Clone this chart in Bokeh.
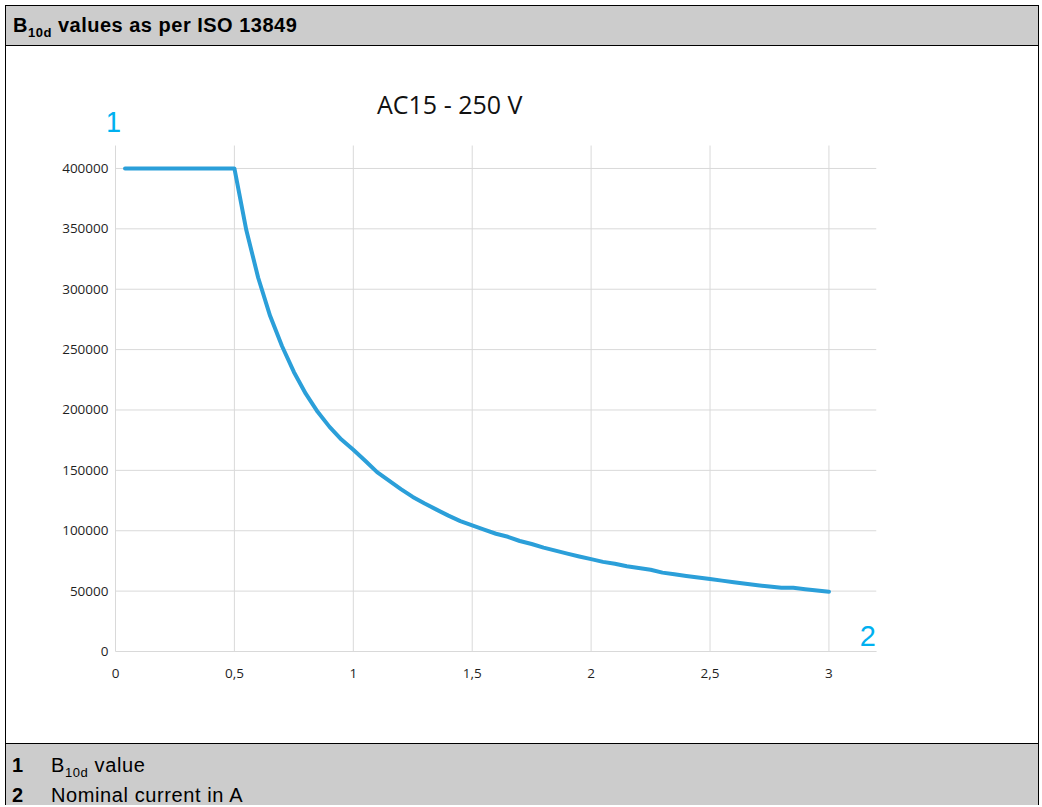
from bokeh.plotting import figure
from bokeh.models import Range1d, FixedTicker, Label, Div
from bokeh.layouts import column
from bokeh.embed import file_html
from bokeh.resources import INLINE

# ---- data ----
current = [0.04, 0.5, 0.55, 0.6, 0.65, 0.7, 0.75, 0.8, 0.85, 0.9, 0.95,
           1.0, 1.05, 1.1, 1.15, 1.2, 1.25, 1.3, 1.35, 1.4, 1.45,
           1.5, 1.55, 1.6, 1.65, 1.7, 1.75, 1.8, 1.85, 1.9, 1.95,
           2.0, 2.05, 2.1, 2.15, 2.2, 2.25, 2.3, 2.35, 2.4, 2.45,
           2.5, 2.55, 2.6, 2.65, 2.7, 2.75, 2.8, 2.85, 2.9, 2.95, 3.0]
b10d = [400000, 400000, 349000, 309500, 278000, 253000, 231500, 213500, 198500, 186000, 175500,
        167000, 158000, 148500, 141500, 134500, 128000, 122500, 117500, 112500, 108000,
        104500, 101000, 97500, 95000, 91500, 89000, 86000, 83500, 81000, 78700,
        76500, 74200, 72600, 70600, 69200, 67700, 65300, 63900, 62600, 61300,
        60000, 58700, 57400, 56100, 54900, 53800, 52700, 52700, 51600, 50500, 49500]

x_ticks = [0, 0.5, 1, 1.5, 2, 2.5, 3]
x_tick_labels = ["0", "0,5", "1", "1,5", "2", "2,5", "3"]
y_ticks = [0, 50000, 100000, 150000, 200000, 250000, 300000, 350000, 400000]
y_tick_labels = ["0", "50000", "100000", "150000", "200000", "250000", "300000", "350000", "400000"]

plot_x_max = 3.2        # right edge of the plot area
plot_y_max = 419000     # top edge of the plot area

chart_title = "AC15 - 250 V"
header_text = "B<sub style='font-size:13px;line-height:0'>10d</sub> values as per ISO 13849"
legend_rows = [("1", "B<sub style='font-size:13px;line-height:0'>10d</sub> value"),
               ("2", "Nominal current in A")]
axis_keys = ["1", "2"]

W = 1032
FONT_ARIAL = "'Liberation Sans', Arial, sans-serif"

# ---- chart ----
p = figure(width=W, height=697,
           x_range=Range1d(-7 / 238, plot_x_max), y_range=Range1d(0, 468700),
           output_backend="svg", toolbar_location=None,
           min_border_left=102, min_border_right=W - 870,
           min_border_top=39, min_border_bottom=92)
p.outline_line_color = None
p.background_fill_color = "white"
p.border_fill_color = "white"
p.grid.visible = False

p.xaxis.ticker = FixedTicker(ticks=x_ticks)
p.yaxis.ticker = FixedTicker(ticks=y_ticks)
p.xaxis.major_label_overrides = dict(zip(x_ticks, x_tick_labels))
p.yaxis.major_label_overrides = dict(zip(y_ticks, y_tick_labels))
for ax in (p.xaxis, p.yaxis):
    ax.major_tick_line_color = None
    ax.minor_tick_line_color = None
    ax.major_tick_out = 0
    ax.major_tick_in = 0
    ax.minor_tick_out = 0
    ax.minor_tick_in = 0
    ax.major_label_text_font = "Open Sans"
    ax.major_label_text_font_size = "13.5px"
    ax.major_label_text_color = "#1f1f1f"
p.xaxis.axis_line_color = "#d9d9d9"
p.xaxis.bounds = (0, plot_x_max)
p.yaxis.axis_line_color = None
p.xaxis.major_label_standoff = 17
p.yaxis.major_label_standoff = 0

# gridlines limited to the plot area
p.segment(x0=x_ticks, y0=[0] * len(x_ticks), x1=x_ticks, y1=[plot_y_max] * len(x_ticks),
          line_color="#d9d9d9", line_width=1)
p.segment(x0=[0] * len(y_ticks), y0=y_ticks, x1=[plot_x_max] * len(y_ticks), y1=y_ticks,
          line_color="#d9d9d9", line_width=1)

p.line(current, b10d, line_width=4, line_color="#2b9fd9",
       line_join="round", line_cap="round")

p.add_layout(Label(x=1.4055, y=453000, text=chart_title, text_align="center",
                   text_baseline="middle", text_color="#111111",
                   text_font="Open Sans", text_font_size="25px"))
p.add_layout(Label(x=-0.0105, y=438500, text=axis_keys[0], text_align="center",
                   text_baseline="middle", text_color="#00b0f0",
                   text_font="Liberation Sans", text_font_size="29px"))
p.add_layout(Label(x=3.164, y=12800, text=axis_keys[1], text_align="center",
                   text_baseline="middle", text_color="#00b0f0",
                   text_font="Liberation Sans", text_font_size="29px"))

# ---- header / footer ----
header = Div(
    text=f"<div style=\"font-family:{FONT_ARIAL};font-weight:bold;font-size:20px;"
         f"letter-spacing:0.5px;line-height:22px;color:#000;padding:8px 0 0 7px;\">{header_text}</div>",
    width=W, height=41, margin=0,
    styles={"background-color": "#cccccc", "border-top": "1px solid #000",
            "border-bottom": "1px solid #000", "box-sizing": "border-box"})

rows_html = "".join(
    f"<div><span style='display:inline-block;width:39px;font-weight:bold'>{k}</span>{t}</div>"
    for k, t in legend_rows)
footer = Div(
    text=f"<div style=\"font-family:{FONT_ARIAL};font-size:20px;letter-spacing:0.6px;line-height:30px;"
         f"color:#000;padding:6px 0 0 6px;\">{rows_html}</div>",
    width=W, height=62, margin=0,
    styles={"background-color": "#cccccc", "border-top": "1px solid #000",
            "box-sizing": "border-box", "overflow": "hidden"})

layout = column(header, p, footer, spacing=0, margin=(5, 0, 0, 5),
                styles={"border-left": "1px solid #000", "border-right": "1px solid #000"})

open("out.html", "w").write(file_html(layout, INLINE))
